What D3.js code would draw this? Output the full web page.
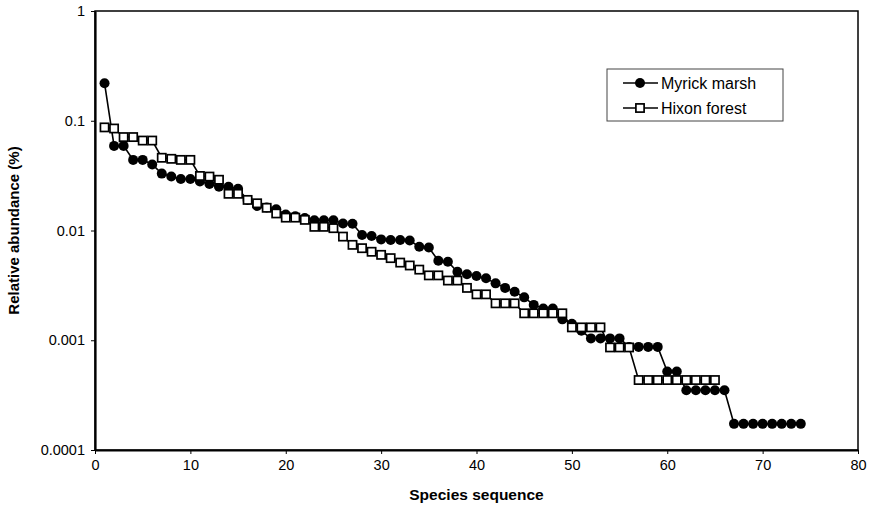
<!DOCTYPE html>
<html>
<head>
<meta charset="utf-8">
<script src="https://cdn.jsdelivr.net/npm/d3@7"></script>
<style>
  body { margin: 0; background: #fff; }
  svg { display: block; }
</style>
</head>
<body>
<div id="chart"></div>
<script>
// relative abundance by species rank
var myrickValues = [
  0.22, 0.059, 0.059, 0.044, 0.044, 0.040, 0.033, 0.031, 0.0295, 0.0295,
  0.028, 0.0265, 0.025, 0.025, 0.024, 0.019, 0.0167, 0.0162, 0.0156, 0.014,
  0.0135, 0.013, 0.0124, 0.0124, 0.0124, 0.0116, 0.0115, 0.0091, 0.0089, 0.0083,
  0.0082, 0.0082, 0.0081, 0.0071, 0.0070, 0.0053, 0.0052, 0.0042, 0.0040, 0.00385,
  0.00367, 0.0033, 0.0030, 0.00277, 0.00246, 0.0021, 0.00195, 0.00195, 0.00155, 0.00141,
  0.00122, 0.00104, 0.00104, 0.00104, 0.00104, 0.00087, 0.00087, 0.00087, 0.00087, 0.00052,
  0.00052, 0.00035, 0.00035, 0.00035, 0.00035, 0.00035, 0.000173, 0.000173, 0.000173, 0.000173,
  0.000173, 0.000173, 0.000173, 0.000173
];
var hixonValues = [
  0.087, 0.085, 0.071, 0.071, 0.066, 0.066, 0.046, 0.045, 0.044, 0.044,
  0.0314, 0.031, 0.029, 0.0216, 0.0216, 0.019, 0.0177, 0.0161, 0.0143, 0.0131,
  0.0131, 0.0125, 0.0108, 0.0108, 0.0105, 0.0088, 0.0074, 0.0069, 0.0064, 0.0060,
  0.0056, 0.0051, 0.0048, 0.0044, 0.0039, 0.0039, 0.0035, 0.0035, 0.0030, 0.00262,
  0.00262, 0.00217, 0.00217, 0.00217, 0.00176, 0.00176, 0.00176, 0.00176, 0.00176, 0.00131,
  0.00131, 0.00131, 0.00131, 0.00086, 0.00086, 0.00086, 0.000434, 0.000434, 0.000434, 0.000434,
  0.000434, 0.000434, 0.000434, 0.000434, 0.000434
];
var seriesNames = ['Myrick marsh', 'Hixon forest'];
var xTicks = [0, 10, 20, 30, 40, 50, 60, 70, 80];
var yTicks = [0.0001, 0.001, 0.01, 0.1, 1];
var yTickLabels = ['0.0001', '0.001', '0.01', '0.1', '1'];

var attrs = {
  svgWidth: 874,
  svgHeight: 507,
  marginTop: 11,
  marginLeft: 95,
  marginRight: 16,
  marginBottom: 57,
  fontFamily: '"Liberation Sans", Arial, sans-serif'
};

var calc = {};
calc.chartWidth = attrs.svgWidth - attrs.marginLeft - attrs.marginRight;
calc.chartHeight = attrs.svgHeight - attrs.marginTop - attrs.marginBottom;

var svg = d3.select('#chart')
  .append('svg')
  .attr('width', attrs.svgWidth)
  .attr('height', attrs.svgHeight)
  .attr('font-family', attrs.fontFamily);

var chart = svg.append('g')
  .attr('transform', 'translate(' + attrs.marginLeft + ',' + attrs.marginTop + ')');

// scales
var x = d3.scaleLinear().domain([0, 80]).range([0, calc.chartWidth]);
var y = d3.scaleLog().domain([0.0001, 1]).range([calc.chartHeight, 0]);

// frame
chart.append('rect')
  .attr('width', calc.chartWidth)
  .attr('height', calc.chartHeight)
  .attr('fill', 'none')
  .attr('stroke', '#000')
  .attr('stroke-width', 1.5);

// axes
var xAxis = chart.append('g')
  .attr('transform', 'translate(0,' + calc.chartHeight + ')')
  .call(d3.axisBottom(x).tickValues(xTicks).tickSize(4).tickPadding(6).tickSizeOuter(0));

var yAxis = chart.append('g')
  .call(d3.axisLeft(y).tickValues(yTicks).tickFormat(function (d, i) { return yTickLabels[i]; })
    .tickSize(4).tickPadding(6).tickSizeOuter(0));

[xAxis, yAxis].forEach(function (ax) {
  ax.select('.domain').attr('stroke-width', 2.2);
  ax.selectAll('.tick line').attr('stroke-width', 1);
  ax.selectAll('.tick text').attr('font-size', 14.5).attr('fill', '#000').attr('font-family', attrs.fontFamily);
});

// axis titles
svg.append('text')
  .attr('x', attrs.marginLeft + calc.chartWidth / 2)
  .attr('y', 500)
  .attr('text-anchor', 'middle')
  .attr('font-size', 15.5)
  .attr('font-weight', 'bold')
  .text('Species sequence');

svg.append('text')
  .attr('transform', 'translate(19,' + (attrs.marginTop + calc.chartHeight / 2) + ') rotate(-90)')
  .attr('text-anchor', 'middle')
  .attr('font-size', 15)
  .attr('font-weight', 'bold')
  .text('Relative abundance (%)');

// lines + markers
var line = d3.line()
  .x(function (d, i) { return x(i + 1); })
  .y(function (d) { return y(d); });

chart.append('path')
  .datum(myrickValues)
  .attr('d', line)
  .attr('fill', 'none')
  .attr('stroke', '#000')
  .attr('stroke-width', 1.6);

chart.append('g')
  .selectAll('circle')
  .data(myrickValues)
  .enter()
  .append('circle')
  .attr('cx', function (d, i) { return x(i + 1); })
  .attr('cy', function (d) { return y(d); })
  .attr('r', 5)
  .attr('fill', '#000');

chart.append('path')
  .datum(hixonValues)
  .attr('d', line)
  .attr('fill', 'none')
  .attr('stroke', '#000')
  .attr('stroke-width', 1.6);

var sq = 8.2;
chart.append('g')
  .selectAll('rect')
  .data(hixonValues)
  .enter()
  .append('rect')
  .attr('x', function (d, i) { return x(i + 1) - sq / 2; })
  .attr('y', function (d) { return y(d) - sq / 2; })
  .attr('width', sq)
  .attr('height', sq)
  .attr('fill', '#fff')
  .attr('stroke', '#000')
  .attr('stroke-width', 1.7);

// legend
var legend = svg.append('g').attr('transform', 'translate(607,69)');
legend.append('rect')
  .attr('width', 176)
  .attr('height', 52)
  .attr('fill', '#fff')
  .attr('stroke', '#444')
  .attr('stroke-width', 1);

var items = legend.selectAll('.item')
  .data(seriesNames)
  .enter()
  .append('g')
  .attr('class', 'item')
  .attr('transform', function (d, i) { return 'translate(0,' + (14 + i * 25) + ')'; });

items.append('line')
  .attr('x1', 16).attr('x2', 51)
  .attr('stroke', '#000').attr('stroke-width', 1.6);

items.filter(function (d, i) { return i === 0; })
  .append('circle')
  .attr('cx', 33).attr('r', 5).attr('fill', '#000');

items.filter(function (d, i) { return i === 1; })
  .append('rect')
  .attr('x', 33 - sq / 2).attr('y', -sq / 2)
  .attr('width', sq).attr('height', sq)
  .attr('fill', '#fff').attr('stroke', '#000').attr('stroke-width', 1.7);

items.append('text')
  .attr('x', 54)
  .attr('dy', '0.36em')
  .attr('font-size', 16)
  .text(function (d) { return d; });
</script>
</body>
</html>
